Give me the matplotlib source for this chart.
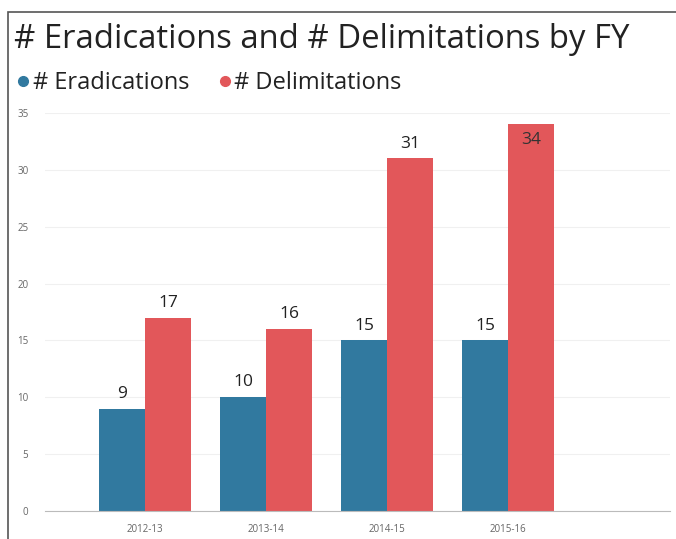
import matplotlib.pyplot as plt
import numpy as np
from matplotlib.patches import Rectangle
from matplotlib.lines import Line2D

years = ["2012-13", "2013-14", "2014-15", "2015-16"]
eradications = [9, 10, 15, 15]
delimitations = [17, 16, 31, 34]
y_ticks = [0, 5, 10, 15, 20, 25, 30, 35]

blue = "#31799F"
red = "#E2575A"

plt.rcParams['font.family'] = ['Open Sans', 'DejaVu Sans']

fig = plt.figure(figsize=(6.76, 5.39), dpi=100)

# photo frame
fig.add_artist(Rectangle((8 / 676, -0.05), 1.1, 1 - 12 / 539 + 0.05,
                         transform=fig.transFigure, fill=False,
                         edgecolor="#555555", linewidth=1.2))

ax = fig.add_axes([45 / 676, 1 - 511 / 539, 625 / 676, (511 - 113) / 539])

x = np.arange(len(years))
w = 0.38
b1 = ax.bar(x - w / 2, eradications, width=w, color=blue)
b2 = ax.bar(x + w / 2, delimitations, width=w, color=red)

for rect, v in zip(b1, eradications):
    ax.text(rect.get_x() + rect.get_width() / 2, v + 0.6, str(v),
            ha="center", va="bottom", fontsize=12.5, color="#222222")
for rect, v in zip(b2, delimitations):
    if v >= 33:
        ax.text(rect.get_x() + rect.get_width() / 2, v - 0.7, str(v),
                ha="center", va="top", fontsize=12.5, color="#333333")
    else:
        ax.text(rect.get_x() + rect.get_width() / 2, v + 0.6, str(v),
                ha="center", va="bottom", fontsize=12.5, color="#222222")

ax.set_xlim(-0.83, 4.34)
ax.set_ylim(0, 35)
ax.set_yticks(y_ticks)
ax.set_xticks(x)
ax.set_xticklabels(years)
ax.tick_params(axis="both", length=0, labelsize=7, labelcolor="#666666")
ax.tick_params(axis="y", pad=12)
ax.tick_params(axis="x", pad=9)
for lab in ax.get_yticklabels():
    lab.set_horizontalalignment("right")

for s in ["top", "right", "left"]:
    ax.spines[s].set_visible(False)
ax.spines["bottom"].set_color("#bbbbbb")
ax.yaxis.grid(True, color="#f0f0f0", linewidth=0.8)
ax.set_axisbelow(True)

fig.text(14 / 676, 1 - 40 / 539, "# Eradications and # Delimitations by FY",
         fontsize=23.7, color="#222222", va="center", ha="left")

handles = [Line2D([], [], marker="o", linestyle="", color=blue, markersize=7),
           Line2D([], [], marker="o", linestyle="", color=red, markersize=7)]
fig.legend(handles, ["# Eradications", "# Delimitations"], loc="center left",
           bbox_to_anchor=(14 / 676, 1 - 83 / 539), ncol=2, frameon=False,
           fontsize=17, handletextpad=0.0, columnspacing=1.1,
           handlelength=0.8, borderpad=0, borderaxespad=0,
           labelcolor="#222222")

fig.savefig("out.png", dpi=100)
